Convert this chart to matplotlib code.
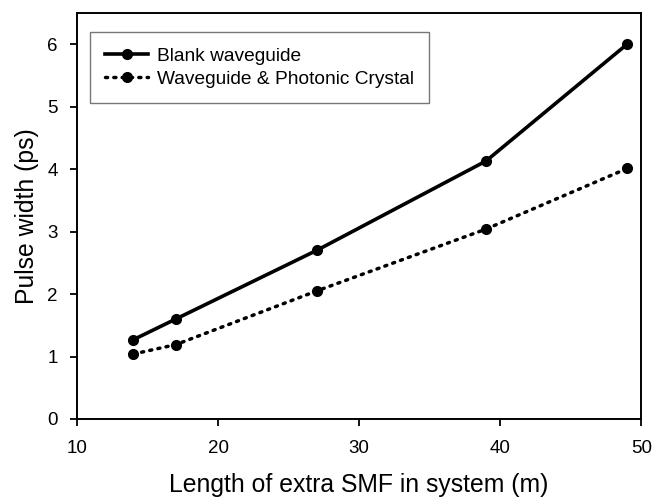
import matplotlib
matplotlib.use("Agg")
import matplotlib.pyplot as plt

plt.rcParams['font.family'] = ['Liberation Sans', 'DejaVu Sans']

smf_length = [14, 17, 27, 39, 49]
blank_width = [1.27, 1.60, 2.70, 4.13, 6.00]
crystal_width = [1.04, 1.19, 2.05, 3.04, 4.01]

fig = plt.figure(figsize=(6.53, 4.97), dpi=100)
ax = fig.add_axes([0.118, 0.157, 0.864, 0.817])

ax.plot(smf_length, blank_width, color='black', linewidth=2.6, marker='o',
        markersize=7, label="Blank waveguide")
ax.plot(smf_length, crystal_width, color='black', linewidth=2.5, linestyle=(0, (0.6, 1.8)),
        dash_capstyle='round', marker='o', markersize=7,
        label="Waveguide & Photonic Crystal")

ax.set_xlim(10, 50)
ax.set_ylim(0, 6.5)
ax.set_xticks([10, 20, 30, 40, 50])
ax.set_yticks([0, 1, 2, 3, 4, 5, 6])
ax.tick_params(axis='x', direction='out', length=5, width=1.3, labelsize=13.5, pad=10,
               top=False)
ax.tick_params(axis='y', direction='out', length=5, width=1.3, labelsize=13.5, pad=9,
               right=False)
for s in ax.spines.values():
    s.set_linewidth(1.4)

ax.set_xlabel("Length of extra SMF in system (m)", fontsize=17.8, labelpad=12)
ax.set_ylabel("Pulse width (ps)", fontsize=17.8, labelpad=6)

leg = ax.legend(loc='upper left', bbox_to_anchor=(0.023, 0.953), borderaxespad=0,
                fontsize=13.8, frameon=True, fancybox=False, handlelength=2.25,
                handletextpad=0.42, borderpad=0.8, labelspacing=0.3)
leg.get_frame().set_edgecolor('#555555')
leg.get_frame().set_linewidth(1.0)

fig.savefig("out.png", dpi=100)
